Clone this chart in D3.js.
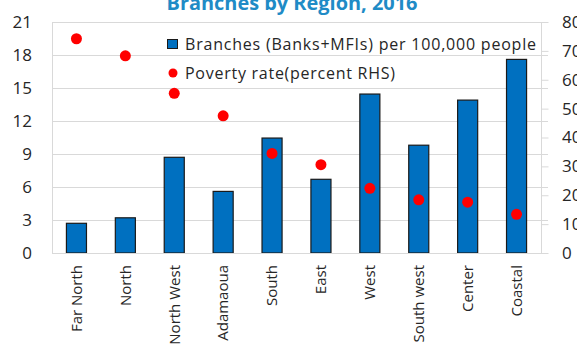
<!DOCTYPE html>
<html><head><meta charset="utf-8">
<script src="https://cdn.jsdelivr.net/npm/d3@7"></script>
<style>body{margin:0;background:#fff}svg{display:block}text{font-family:"Open Sans","Noto Sans",sans-serif}</style>
</head><body><svg id="c" width="577" height="350"></svg>
<script>
const categories=["Far North","North","North West","Adamaoua","South","East","West","South west","Center","Coastal"];
const branches=[2.7,3.2,8.7,5.6,10.45,6.7,14.45,9.8,13.9,17.6];
const poverty=[74.2,68.3,55.3,47.5,34.5,30.6,22.4,18.4,17.6,13.4];
const leftTicks=[0,3,6,9,12,15,18,21];
const rightTicks=[0,10,20,30,40,50,60,70,80];
const legendLabels=["Branches (Banks+MFIs) per 100,000 people","Poverty rate(percent RHS)"];
const title="Branches by Region, 2016";

const svg=d3.select("#c");
const L=52,R=541,T=22,B=253;
const FONT="'Open Sans','Noto Sans',sans-serif";
const x=d3.scaleBand().domain(categories).range([L,R]).paddingInner(0.59).paddingOuter(0.295);
const y=d3.scaleLinear().domain([0,21]).range([B,T]);
const y2=d3.scaleLinear().domain([0,80]).range([B,T]);

svg.append("text").attr("x",292).attr("y",10).attr("text-anchor","middle")
  .attr("font-size",19).attr("font-weight","bold").attr("fill","#1F8BC6")
  .attr("textLength",251).attr("lengthAdjust","spacingAndGlyphs").text(title);

// gridlines
svg.append("g").selectAll("line").data(leftTicks).join("line")
  .attr("x1",L).attr("x2",548).attr("y1",d=>Math.round(y(d))+0.5).attr("y2",d=>Math.round(y(d))+0.5)
  .attr("stroke","#d9d9d9").attr("stroke-width",1);
svg.append("line").attr("x1",L+0.5).attr("x2",L+0.5).attr("y1",T).attr("y2",B).attr("stroke","#d9d9d9");
svg.append("line").attr("x1",R+0.5).attr("x2",R+0.5).attr("y1",T).attr("y2",B).attr("stroke","#d9d9d9");

// left axis labels
const la=svg.append("g").attr("transform",`translate(${L},0)`).call(d3.axisLeft(y).tickValues(leftTicks).tickSize(0).tickPadding(20));
la.select(".domain").remove();
la.selectAll("text").attr("font-size",17).attr("fill","#262626").attr("font-family",FONT);
// right axis
const ra=svg.append("g").attr("transform",`translate(${R},0)`).call(d3.axisRight(y2).tickValues(rightTicks).tickSize(7).tickPadding(14));
ra.select(".domain").remove();
ra.selectAll("line").attr("stroke","#d9d9d9").attr("transform","translate(0.5,0)");
ra.selectAll("text").attr("font-size",17).attr("fill","#262626").attr("font-family",FONT);

// bars
svg.append("g").selectAll("rect").data(categories).join("rect")
  .attr("x",d=>x(d)).attr("width",x.bandwidth())
  .attr("y",(d,i)=>y(branches[i])).attr("height",(d,i)=>B-y(branches[i]))
  .attr("fill","#0070C0").attr("stroke","#1a1a1a").attr("stroke-width",1.2);

// dots
svg.append("g").selectAll("circle").data(categories).join("circle")
  .attr("cx",d=>x(d)+x.bandwidth()/2).attr("cy",(d,i)=>y2(poverty[i])).attr("r",5.5).attr("fill","#FF0000");

// x labels
const xa=svg.append("g").attr("transform",`translate(0,${B})`).call(d3.axisBottom(x).tickSize(0));
xa.select(".domain").attr("stroke","#d9d9d9");
xa.selectAll("text").attr("font-size",15).attr("fill","#262626").attr("font-family",FONT)
  .attr("transform","rotate(-90)").attr("text-anchor","end").attr("dy","0.35em").attr("x",-12).attr("y",0);

// legend
const lg=svg.append("g");
lg.append("rect").attr("x",167.5).attr("y",39.5).attr("width",10).attr("height",9).attr("fill","#0070C0").attr("stroke","#1a1a1a");
lg.append("text").attr("x",185).attr("y",44).attr("dy","0.35em").attr("font-size",16).attr("fill","#262626")
  .attr("textLength",351).attr("lengthAdjust","spacing").text(legendLabels[0]);
lg.append("circle").attr("cx",173).attr("cy",73).attr("r",4.5).attr("fill","#FF0000");
lg.append("text").attr("x",185).attr("y",73.5).attr("dy","0.35em").attr("font-size",16).attr("fill","#262626")
  .attr("textLength",210).attr("lengthAdjust","spacing").text(legendLabels[1]);
</script></body></html>
